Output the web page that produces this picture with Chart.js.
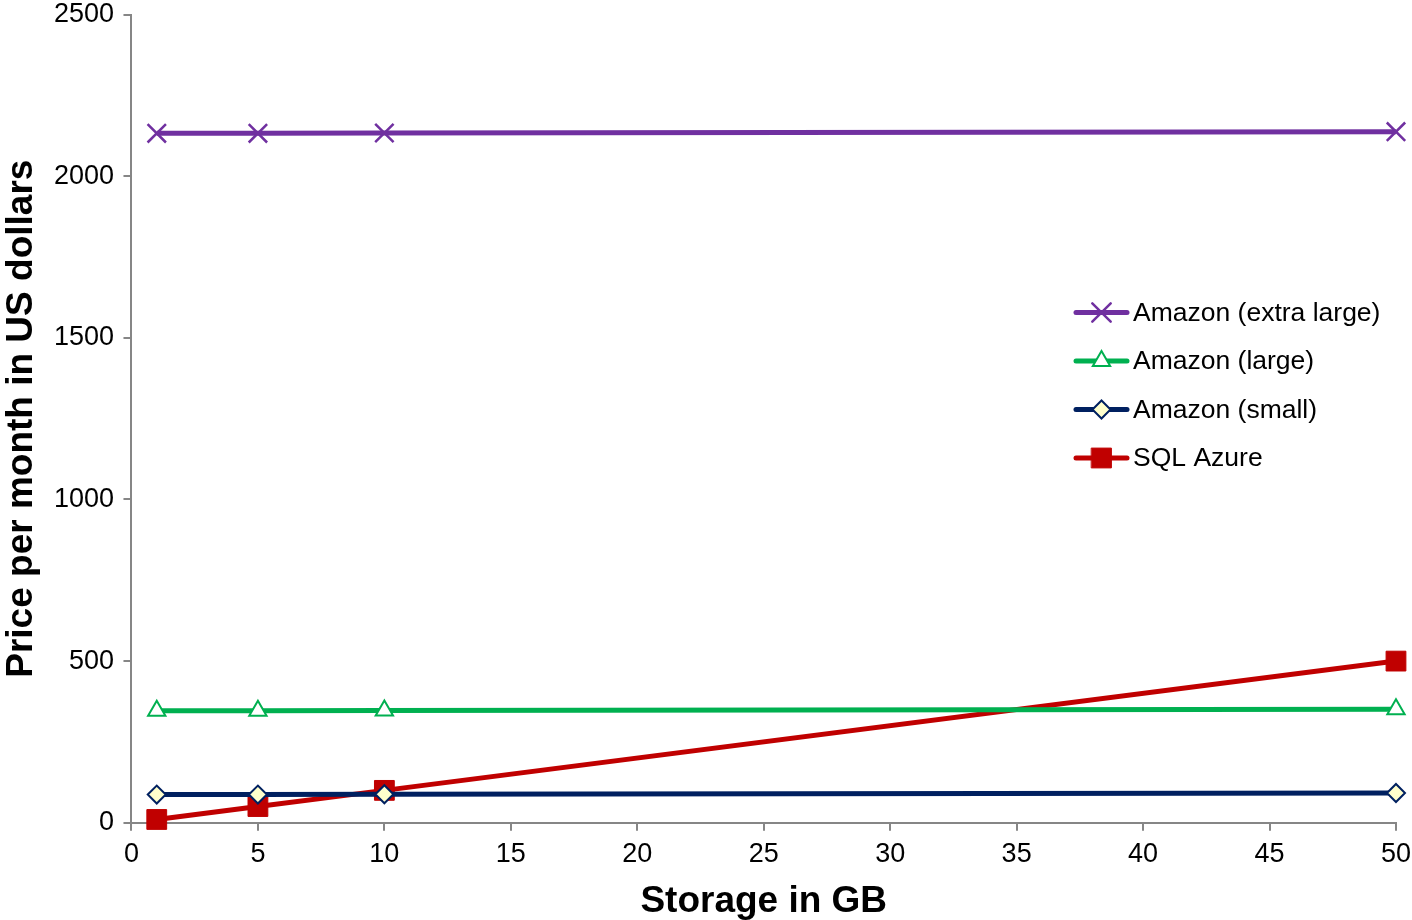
<!DOCTYPE html>
<html>
<head>
<meta charset="utf-8">
<script src="https://cdn.jsdelivr.net/npm/chart.js@4"></script>
<style>
  html, body { margin: 0; padding: 0; background: #fff; overflow: hidden; width: 1412px; height: 920px; }
  #wrap { position: absolute; left: -14px; top: -11.5px; width: 1433px; height: 934.5px; }
</style>
</head>
<body>
<div id="wrap"><canvas id="myChart"></canvas></div>
<script>
'use strict';
let storageGB = [1, 5, 10, 50];
let extraLarge = [2133, 2133, 2134, 2138];
let large = [346, 346, 347, 351];
let small = [87, 87, 88, 92];
let sqlAzure = [10, 50, 100, 500];
let xTicks = [0, 5, 10, 15, 20, 25, 30, 35, 40, 45, 50];
let yTicks = [0, 500, 1000, 1500, 2000, 2500];

function pts(vals) {
  return storageGB.map(function (x, i) { return { x: x, y: vals[i] }; });
}

let font = "'Liberation Sans', Arial, sans-serif";
// canvas is shifted by the wrapper, so legend coordinates add this back
let offX = 14, offY = 11.5;

// legend drawn inside the plot area like the original
let insideLegend = {
  id: 'insideLegend',
  afterDraw: function (chart) {
    let ctx = chart.ctx;
    let x0 = 1076 + offX, x1 = 1127 + offX, y = 312 + offY, gap = 48.5;
    chart.data.datasets.forEach(function (ds, i) {
      let yy = y + i * gap;
      ctx.save();
      ctx.strokeStyle = ds.borderColor;
      ctx.lineWidth = ds.borderWidth;
      ctx.lineCap = 'round';
      ctx.beginPath();
      ctx.moveTo(x0, yy);
      ctx.lineTo(x1, yy);
      ctx.stroke();
      ctx.fillStyle = ds.pointBackgroundColor;
      ctx.strokeStyle = ds.pointBorderColor;
      ctx.lineWidth = ds.pointBorderWidth;
      Chart.helpers.drawPoint(ctx, {
        pointStyle: ds.pointStyle,
        radius: ds.pointRadius,
        borderWidth: ds.pointBorderWidth,
        rotation: 0
      }, (x0 + x1) / 2, yy);
      ctx.fillStyle = '#000';
      ctx.font = '26.5px ' + font;
      ctx.textBaseline = 'middle';
      ctx.textAlign = 'left';
      ctx.fillText(ds.label, 1133 + offX, yy + 1);
      ctx.restore();
    });
  }
};

let ctx = document.getElementById('myChart').getContext('2d');
let myChart = new Chart(ctx, {
  type: 'scatter',
  data: {
    datasets: [{
      label: 'Amazon (extra large)',
      data: pts(extraLarge),
      showLine: true,
      clip: false,
      borderColor: '#7030A0',
      borderWidth: 5,
      pointStyle: 'crossRot',
      pointRadius: 13,
      pointBorderWidth: 2.5,
      pointBorderColor: '#7030A0',
      pointBackgroundColor: '#7030A0'
    },
    {
      label: 'Amazon (large)',
      data: pts(large),
      showLine: true,
      clip: false,
      borderColor: '#00B050',
      borderWidth: 5,
      pointStyle: 'triangle',
      pointRadius: 10,
      pointBorderWidth: 2,
      pointBorderColor: '#00B050',
      pointBackgroundColor: '#FFFFFF'
    },
    {
      label: 'Amazon (small)',
      data: pts(small),
      showLine: true,
      clip: false,
      borderColor: '#002060',
      borderWidth: 5,
      pointStyle: 'rectRot',
      pointRadius: 9,
      pointBorderWidth: 2,
      pointBorderColor: '#002060',
      pointBackgroundColor: '#FFFFCC'
    },
    {
      label: 'SQL Azure',
      data: pts(sqlAzure),
      showLine: true,
      clip: false,
      borderColor: '#C00000',
      borderWidth: 5,
      pointStyle: 'rect',
      pointRadius: 14,
      pointBorderWidth: 1,
      pointBorderColor: '#C00000',
      pointBackgroundColor: '#C00000'
    }]
  },
  options: {
    responsive: true,
    maintainAspectRatio: false,
    animation: false,
    layout: { padding: { top: 0, right: 13, left: 0, bottom: 0 } },
    plugins: {
      legend: { display: false },
      tooltip: { enabled: false }
    },
    scales: {
      x: {
        type: 'linear',
        min: 0,
        max: 50,
        afterBuildTicks: function (axis) { axis.ticks = xTicks.map(function (v) { return { value: v }; }); },
        border: { color: '#868686', width: 2 },
        grid: { drawOnChartArea: false, color: '#868686', lineWidth: 2, tickLength: 8 },
        ticks: {
          color: '#000', font: { family: font, size: 27 }, padding: 8, maxRotation: 0,
          callback: function (v) { return String(v); }
        },
        title: { display: true, text: 'Storage in GB', color: '#000', font: { family: font, size: 37, weight: 'bold' }, padding: { top: 0, bottom: 0 } }
      },
      y: {
        min: 0,
        max: 2500,
        afterBuildTicks: function (axis) { axis.ticks = yTicks.map(function (v) { return { value: v }; }); },
        border: { color: '#868686', width: 2 },
        grid: { drawOnChartArea: false, color: '#868686', lineWidth: 2, tickLength: 8 },
        ticks: {
          color: '#000', font: { family: font, size: 27 }, padding: 9.5,
          callback: function (v) { return String(v); }
        },
        title: { display: true, text: 'Price per month in US dollars', color: '#000', font: { family: font, size: 37, weight: 'bold' }, padding: { top: 14, bottom: 0 } }
      }
    }
  },
  plugins: [insideLegend]
});
</script>
</body>
</html>
